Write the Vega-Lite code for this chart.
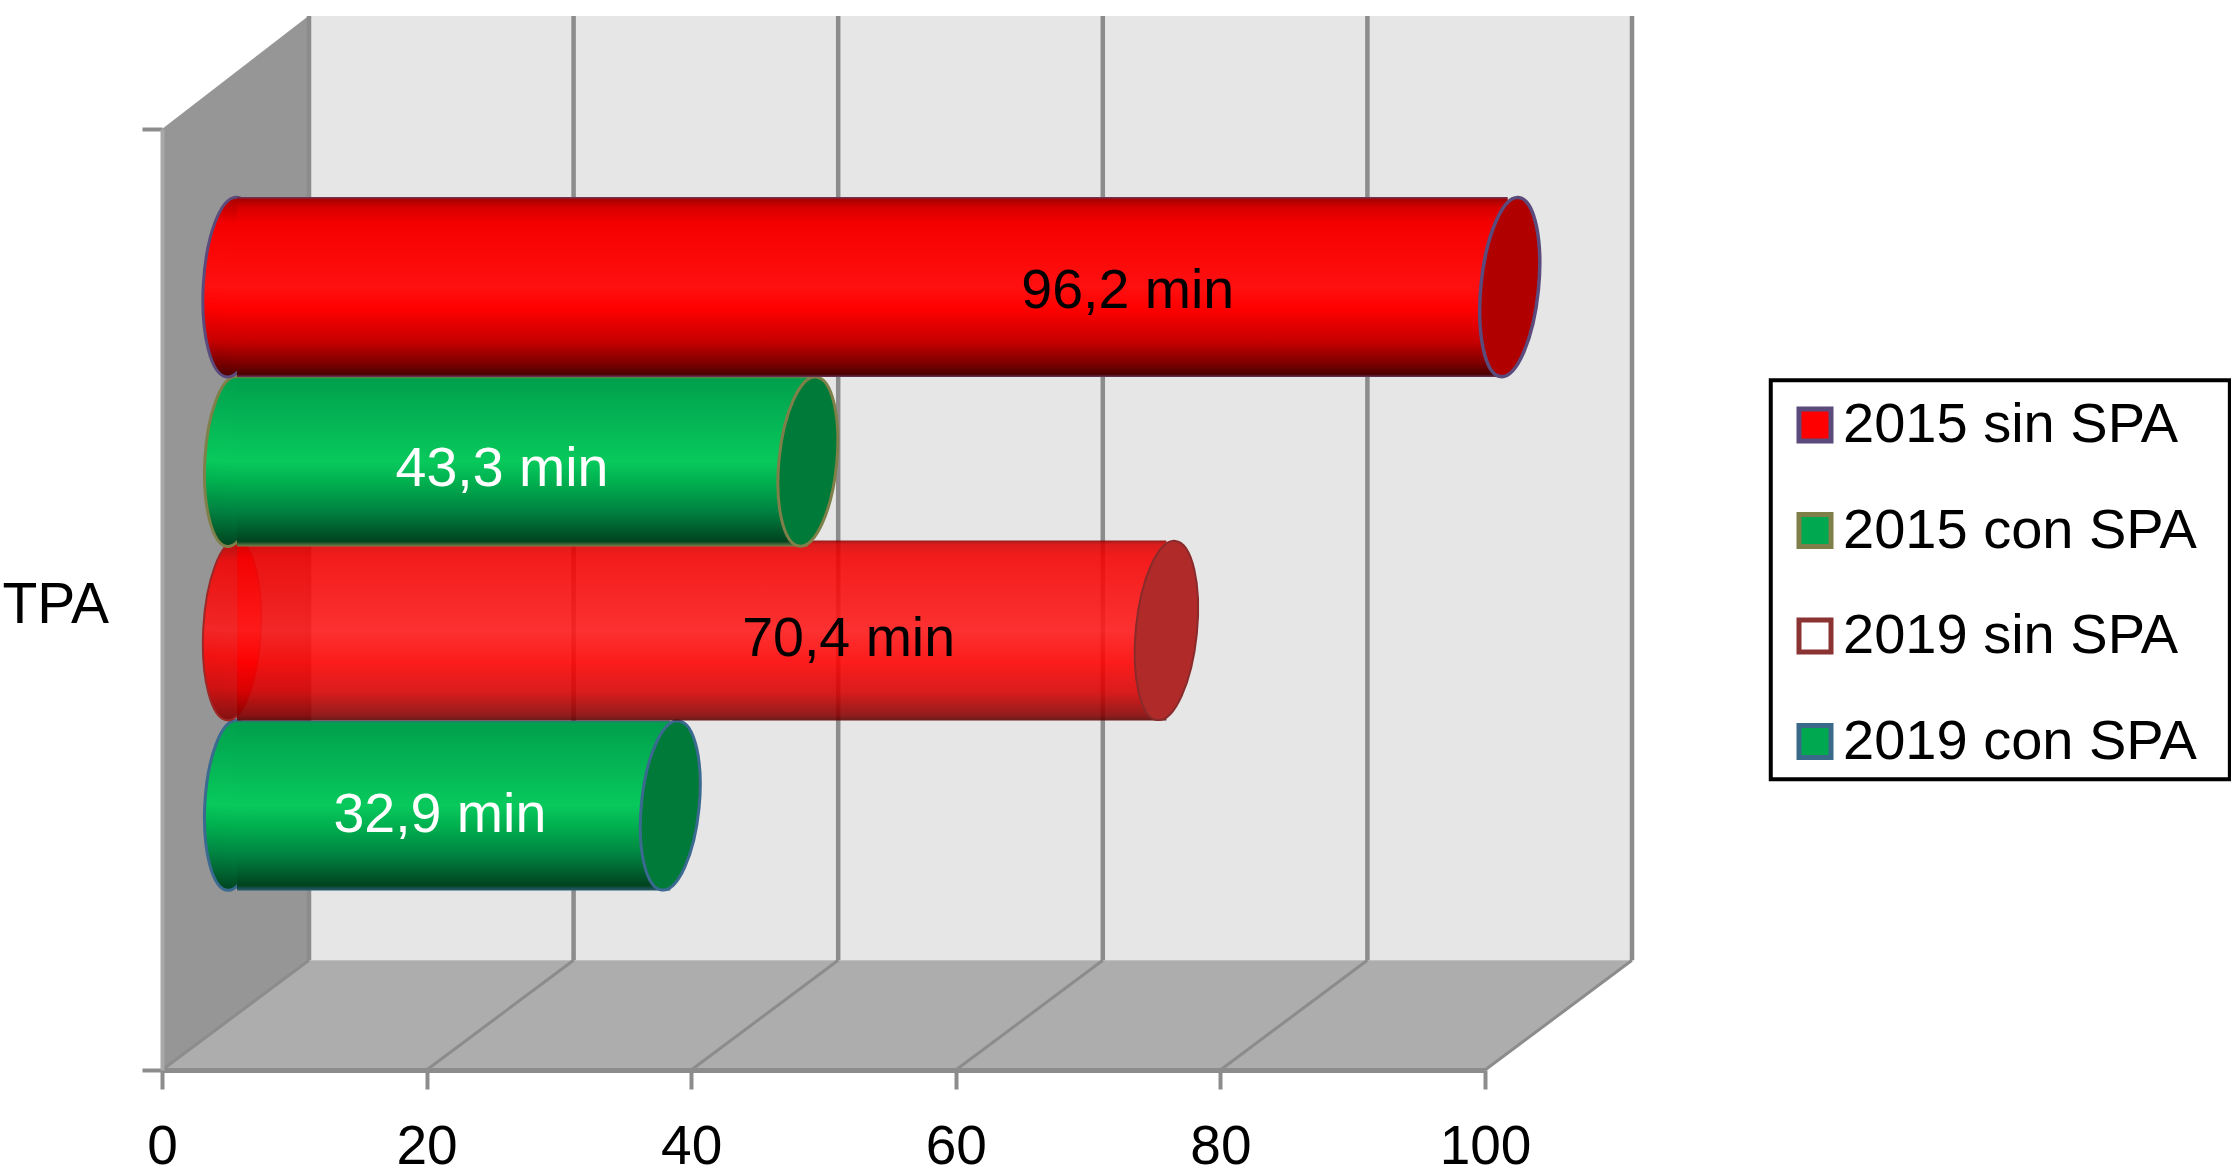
{"$schema":"https://vega.github.io/schema/vega-lite/v6.json","autosize":{"type":"none"},"padding":{"left":162,"top":129,"right":746,"bottom":106},"width":1323,"height":941,"background":"white","config":{"view":{"stroke":null},"font":"Liberation Sans","text":{"font":"Liberation Sans"}},"datasets":{"tpa":[{"series":"2015 sin SPA","value":96.2,"label":"96,2 min"},{"series":"2015 con SPA","value":43.3,"label":"43,3 min"},{"series":"2019 sin SPA","value":70.4,"label":"70,4 min"},{"series":"2019 con SPA","value":32.9,"label":"32,9 min"}],"ticks":[{"tick":0},{"tick":20},{"tick":40},{"tick":60},{"tick":80},{"tick":100}]},"resolve":{"scale":{"y":"independent"},"axis":{"x":"independent","y":"independent"}},"layer":[{"resolve":{"axis":{"x":"independent","y":"independent"}},"layer":[{"data":{"values":[{"d":11.07,"lo":11.66,"hi":112},{"d":111.07,"lo":11.66,"hi":112}]},"mark":{"type":"area","orient":"vertical","fill":"#e6e6e6"},"encoding":{"x":{"field":"d","type":"quantitative","scale":{"domain":[0,100],"nice":false},"axis":null},"y":{"field":"lo","type":"quantitative","scale":{"domain":[0,100],"nice":false},"axis":null},"y2":{"field":"hi"}}},{"data":{"values":[{"d":0,"lo":0,"hi":100},{"d":11.07,"lo":11.66,"hi":112}]},"mark":{"type":"area","orient":"vertical","fill":"#969696"},"encoding":{"x":{"field":"d","type":"quantitative","scale":{"domain":[0,100],"nice":false},"axis":null},"y":{"field":"lo","type":"quantitative","scale":{"domain":[0,100],"nice":false},"axis":null},"y2":{"field":"hi"}}},{"data":{"values":[{"d":0,"lo":0,"hi":0},{"d":11.07,"lo":0,"hi":11.66},{"d":100,"lo":0,"hi":11.66},{"d":111.07,"lo":11.66,"hi":11.66}]},"mark":{"type":"area","orient":"vertical","fill":"#adadad"},"encoding":{"x":{"field":"d","type":"quantitative","scale":{"domain":[0,100],"nice":false},"axis":null},"y":{"field":"lo","type":"quantitative","scale":{"domain":[0,100],"nice":false},"axis":null},"y2":{"field":"hi"}}},{"data":{"name":"ticks"},"mark":{"type":"rule","stroke":"#8c8c8c","strokeWidth":4.5,"xOffset":147},"encoding":{"x":{"field":"tick","type":"quantitative","scale":{"domain":[0,100],"nice":false},"axis":null},"y":{"datum":11.66,"type":"quantitative","scale":{"domain":[0,100],"nice":false},"axis":null},"y2":{"datum":112}}},{"data":{"name":"ticks"},"mark":{"type":"rule","stroke":"#8c8c8c","strokeWidth":3,"x2Offset":147},"encoding":{"x":{"field":"tick","type":"quantitative","scale":{"domain":[0,100],"nice":false},"axis":null},"x2":{"field":"tick"},"y":{"datum":0,"type":"quantitative","scale":{"domain":[0,100],"nice":false},"axis":null},"y2":{"datum":11.66}}},{"data":{"values":[{"box":"legend"}]},"mark":{"type":"rect","fill":"#ffffff","stroke":"#000000","strokeWidth":4},"encoding":{"x":{"datum":121.6,"type":"quantitative","scale":{"domain":[0,100],"nice":false},"axis":null},"x2":{"datum":156.3},"y":{"datum":73.3,"type":"quantitative","scale":{"domain":[0,100],"nice":false},"axis":null},"y2":{"datum":30.9}}},{"data":{"name":"ticks"},"mark":{"type":"rule","opacity":0,"size":0},"encoding":{"x":{"field":"tick","type":"quantitative","scale":{"domain":[0,100],"nice":false},"axis":{"title":null,"values":[0,20,40,60,80,100],"grid":false,"domain":true,"domainColor":"#8c8c8c","domainWidth":5,"tickColor":"#8c8c8c","tickWidth":4,"tickSize":19,"labelFontSize":55,"labelFont":"Liberation Sans","labelColor":"#000000","labelPadding":31,"labelOverlap":false,"labelFlush":false,"zindex":1}},"y":{"datum":0,"type":"quantitative","scale":{"domain":[0,100],"nice":false},"axis":{"values":[0,100],"grid":false,"labels":false,"domain":true,"domainColor":"#a8a8a8","domainWidth":4,"tickColor":"#8c8c8c","tickWidth":4,"tickSize":20,"title":"TPA","titleAngle":0,"titleFont":"Liberation Sans","titleFontSize":57,"titleFontWeight":"normal","titleColor":"#000000","titleAlign":"left","titleBaseline":"middle","titleX":-160,"titleY":476,"zindex":1}}}}]},{"data":{"name":"tpa"},"layer":[{"transform":[{"filter":"datum.series === '2019 con SPA'"}],"layer":[{"mark":{"type":"point","filled":true,"shape":"M0,-1A0.32,1,0,0,1,0,1A0.32,1,0,0,1,0,-1Z","size":28900,"angle":3,"xOffset":70,"yOffset":-53.5,"opacity":1,"stroke":"#3a6a90","strokeWidth":3,"fill":{"gradient":"linear","x1":0,"y1":0,"x2":0,"y2":1,"stops":[{"offset":0,"color":"#00a04c"},{"offset":0.5,"color":"#08c95c"},{"offset":0.62,"color":"#00b04f"},{"offset":0.8,"color":"#008040"},{"offset":1,"color":"#00431f"}]}},"encoding":{"x":{"datum":0,"type":"quantitative","scale":{"domain":[0,100],"nice":false},"axis":null},"y":{"field":"series","type":"nominal","axis":null,"scale":{"type":"band","domain":["2015 sin SPA","2015 con SPA","2019 sin SPA","2019 con SPA"],"paddingInner":0,"paddingOuter":0.72}}}},{"mark":{"type":"bar","size":170,"xOffset":73,"x2Offset":75,"yOffset":-53.5,"fill":{"gradient":"linear","x1":0,"y1":0,"x2":0,"y2":1,"stops":[{"offset":0,"color":"#3a6a80"},{"offset":0.015,"color":"#00a04c"},{"offset":0.5,"color":"#08c95c"},{"offset":0.62,"color":"#00b04f"},{"offset":0.8,"color":"#008040"},{"offset":0.97,"color":"#00431f"},{"offset":1,"color":"#2a5a70"}]}},"encoding":{"x":{"field":"value","type":"quantitative","scale":{"domain":[0,100],"nice":false},"axis":null},"x2":{"datum":0},"y":{"field":"series","type":"nominal","axis":null,"scale":{"type":"band","domain":["2015 sin SPA","2015 con SPA","2019 sin SPA","2019 con SPA"],"paddingInner":0,"paddingOuter":0.72}}}},{"mark":{"type":"point","filled":true,"shape":"M0,-1A0.34,1,0,0,1,0,1A0.34,1,0,0,1,0,-1Z","size":28900,"angle":5.7,"xOffset":73,"yOffset":-53.5,"opacity":1,"stroke":"#3a6a90","strokeWidth":3,"fill":"#007a38"},"encoding":{"x":{"field":"value","type":"quantitative","scale":{"domain":[0,100],"nice":false},"axis":null},"y":{"field":"series","type":"nominal","axis":null,"scale":{"type":"band","domain":["2015 sin SPA","2015 con SPA","2019 sin SPA","2019 con SPA"],"paddingInner":0,"paddingOuter":0.72}}}}]},{"transform":[{"filter":"datum.series === '2019 sin SPA'"}],"layer":[{"mark":{"type":"point","filled":true,"shape":"M0,-1A0.32,1,0,0,1,0,1A0.32,1,0,0,1,0,-1Z","size":32400,"angle":3,"xOffset":70,"yOffset":-55.5,"opacity":0.88,"stroke":"#a01818","strokeWidth":2,"fill":{"gradient":"linear","x1":0,"y1":0,"x2":0,"y2":1,"stops":[{"offset":0,"color":"#b00000"},{"offset":0.12,"color":"#f50000"},{"offset":0.5,"color":"#ff1818"},{"offset":0.65,"color":"#ff0000"},{"offset":0.82,"color":"#d80000"},{"offset":1,"color":"#800000"}]}},"encoding":{"x":{"datum":0,"type":"quantitative","scale":{"domain":[0,100],"nice":false},"axis":null},"y":{"field":"series","type":"nominal","axis":null,"scale":{"type":"band","domain":["2015 sin SPA","2015 con SPA","2019 sin SPA","2019 con SPA"],"paddingInner":0,"paddingOuter":0.72}}}},{"mark":{"type":"bar","size":180,"xOffset":73,"x2Offset":75,"yOffset":-55.5,"opacity":0.88,"fill":{"gradient":"linear","x1":0,"y1":0,"x2":0,"y2":1,"stops":[{"offset":0,"color":"#8a0000"},{"offset":0.02,"color":"#d80000"},{"offset":0.09,"color":"#f50000"},{"offset":0.5,"color":"#ff1818"},{"offset":0.68,"color":"#ff0000"},{"offset":0.84,"color":"#d80000"},{"offset":0.97,"color":"#880000"},{"offset":1,"color":"#5a0000"}]}},"encoding":{"x":{"field":"value","type":"quantitative","scale":{"domain":[0,100],"nice":false},"axis":null},"x2":{"datum":0},"y":{"field":"series","type":"nominal","axis":null,"scale":{"type":"band","domain":["2015 sin SPA","2015 con SPA","2019 sin SPA","2019 con SPA"],"paddingInner":0,"paddingOuter":0.72}}}},{"mark":{"type":"point","filled":true,"shape":"M0,-1A0.34,1,0,0,1,0,1A0.34,1,0,0,1,0,-1Z","size":32400,"angle":5.7,"xOffset":73,"yOffset":-55.5,"opacity":1,"stroke":"#8a2a2a","strokeWidth":2,"fill":"#b02a2a"},"encoding":{"x":{"field":"value","type":"quantitative","scale":{"domain":[0,100],"nice":false},"axis":null},"y":{"field":"series","type":"nominal","axis":null,"scale":{"type":"band","domain":["2015 sin SPA","2015 con SPA","2019 sin SPA","2019 con SPA"],"paddingInner":0,"paddingOuter":0.72}}}}]},{"transform":[{"filter":"datum.series === '2015 con SPA'"}],"layer":[{"mark":{"type":"point","filled":true,"shape":"M0,-1A0.32,1,0,0,1,0,1A0.32,1,0,0,1,0,-1Z","size":28900,"angle":3,"xOffset":70,"yOffset":-51.5,"opacity":1,"stroke":"#7f8049","strokeWidth":3,"fill":{"gradient":"linear","x1":0,"y1":0,"x2":0,"y2":1,"stops":[{"offset":0,"color":"#00a04c"},{"offset":0.5,"color":"#08c95c"},{"offset":0.62,"color":"#00b04f"},{"offset":0.8,"color":"#008040"},{"offset":1,"color":"#00431f"}]}},"encoding":{"x":{"datum":0,"type":"quantitative","scale":{"domain":[0,100],"nice":false},"axis":null},"y":{"field":"series","type":"nominal","axis":null,"scale":{"type":"band","domain":["2015 sin SPA","2015 con SPA","2019 sin SPA","2019 con SPA"],"paddingInner":0,"paddingOuter":0.72}}}},{"mark":{"type":"bar","size":170,"xOffset":73,"x2Offset":75,"yOffset":-51.5,"fill":{"gradient":"linear","x1":0,"y1":0,"x2":0,"y2":1,"stops":[{"offset":0,"color":"#7f8049"},{"offset":0.015,"color":"#00a04c"},{"offset":0.5,"color":"#08c95c"},{"offset":0.62,"color":"#00b04f"},{"offset":0.8,"color":"#008040"},{"offset":0.97,"color":"#00431f"},{"offset":1,"color":"#7f8049"}]}},"encoding":{"x":{"field":"value","type":"quantitative","scale":{"domain":[0,100],"nice":false},"axis":null},"x2":{"datum":0},"y":{"field":"series","type":"nominal","axis":null,"scale":{"type":"band","domain":["2015 sin SPA","2015 con SPA","2019 sin SPA","2019 con SPA"],"paddingInner":0,"paddingOuter":0.72}}}},{"mark":{"type":"point","filled":true,"shape":"M0,-1A0.34,1,0,0,1,0,1A0.34,1,0,0,1,0,-1Z","size":28900,"angle":5.7,"xOffset":73,"yOffset":-51.5,"opacity":1,"stroke":"#7f8049","strokeWidth":3,"fill":"#007a38"},"encoding":{"x":{"field":"value","type":"quantitative","scale":{"domain":[0,100],"nice":false},"axis":null},"y":{"field":"series","type":"nominal","axis":null,"scale":{"type":"band","domain":["2015 sin SPA","2015 con SPA","2019 sin SPA","2019 con SPA"],"paddingInner":0,"paddingOuter":0.72}}}}]},{"transform":[{"filter":"datum.series === '2015 sin SPA'"}],"layer":[{"mark":{"type":"point","filled":true,"shape":"M0,-1A0.32,1,0,0,1,0,1A0.32,1,0,0,1,0,-1Z","size":32400,"angle":3,"xOffset":70,"yOffset":-53,"opacity":1,"stroke":"#5b4a7c","strokeWidth":3,"fill":{"gradient":"linear","x1":0,"y1":0,"x2":0,"y2":1,"stops":[{"offset":0,"color":"#a80000"},{"offset":0.15,"color":"#f50000"},{"offset":0.5,"color":"#ff1010"},{"offset":0.62,"color":"#ff0000"},{"offset":0.8,"color":"#c80000"},{"offset":1,"color":"#4a0000"}]}},"encoding":{"x":{"datum":0,"type":"quantitative","scale":{"domain":[0,100],"nice":false},"axis":null},"y":{"field":"series","type":"nominal","axis":null,"scale":{"type":"band","domain":["2015 sin SPA","2015 con SPA","2019 sin SPA","2019 con SPA"],"paddingInner":0,"paddingOuter":0.72}}}},{"mark":{"type":"bar","size":180,"xOffset":73,"x2Offset":75,"yOffset":-53,"fill":{"gradient":"linear","x1":0,"y1":0,"x2":0,"y2":1,"stops":[{"offset":0,"color":"#6a3a60"},{"offset":0.015,"color":"#a80000"},{"offset":0.06,"color":"#d80000"},{"offset":0.15,"color":"#f50000"},{"offset":0.5,"color":"#ff1010"},{"offset":0.62,"color":"#ff0000"},{"offset":0.8,"color":"#c80000"},{"offset":0.93,"color":"#7a0000"},{"offset":0.985,"color":"#4a0000"},{"offset":1,"color":"#6a3a60"}]}},"encoding":{"x":{"field":"value","type":"quantitative","scale":{"domain":[0,100],"nice":false},"axis":null},"x2":{"datum":0},"y":{"field":"series","type":"nominal","axis":null,"scale":{"type":"band","domain":["2015 sin SPA","2015 con SPA","2019 sin SPA","2019 con SPA"],"paddingInner":0,"paddingOuter":0.72}}}},{"mark":{"type":"point","filled":true,"shape":"M0,-1A0.32,1,0,0,1,0,1A0.32,1,0,0,1,0,-1Z","size":32400,"angle":5.7,"xOffset":75,"yOffset":-53,"opacity":1,"stroke":"#5b4a7c","strokeWidth":3.5,"fill":"#b00000"},"encoding":{"x":{"field":"value","type":"quantitative","scale":{"domain":[0,100],"nice":false},"axis":null},"y":{"field":"series","type":"nominal","axis":null,"scale":{"type":"band","domain":["2015 sin SPA","2015 con SPA","2019 sin SPA","2019 con SPA"],"paddingInner":0,"paddingOuter":0.72}}}}]},{"transform":[{"filter":"datum.series === '2015 sin SPA'"}],"mark":{"type":"text","fontSize":55.5,"font":"Liberation Sans","align":"center","baseline":"middle","yOffset":-49,"color":"#000000"},"encoding":{"x":{"datum":73,"type":"quantitative","scale":{"domain":[0,100],"nice":false},"axis":null},"y":{"field":"series","type":"nominal","axis":null,"scale":{"type":"band","domain":["2015 sin SPA","2015 con SPA","2019 sin SPA","2019 con SPA"],"paddingInner":0,"paddingOuter":0.72}},"text":{"field":"label"}}},{"transform":[{"filter":"datum.series === '2015 con SPA'"}],"mark":{"type":"text","fontSize":55.5,"font":"Liberation Sans","align":"center","baseline":"middle","yOffset":-44,"color":"#ffffff"},"encoding":{"x":{"datum":25.7,"type":"quantitative","scale":{"domain":[0,100],"nice":false},"axis":null},"y":{"field":"series","type":"nominal","axis":null,"scale":{"type":"band","domain":["2015 sin SPA","2015 con SPA","2019 sin SPA","2019 con SPA"],"paddingInner":0,"paddingOuter":0.72}},"text":{"field":"label"}}},{"transform":[{"filter":"datum.series === '2019 sin SPA'"}],"mark":{"type":"text","fontSize":55.5,"font":"Liberation Sans","align":"center","baseline":"middle","yOffset":-47,"color":"#000000"},"encoding":{"x":{"datum":51.9,"type":"quantitative","scale":{"domain":[0,100],"nice":false},"axis":null},"y":{"field":"series","type":"nominal","axis":null,"scale":{"type":"band","domain":["2015 sin SPA","2015 con SPA","2019 sin SPA","2019 con SPA"],"paddingInner":0,"paddingOuter":0.72}},"text":{"field":"label"}}},{"transform":[{"filter":"datum.series === '2019 con SPA'"}],"mark":{"type":"text","fontSize":55.5,"font":"Liberation Sans","align":"center","baseline":"middle","yOffset":-44,"color":"#ffffff"},"encoding":{"x":{"datum":21,"type":"quantitative","scale":{"domain":[0,100],"nice":false},"axis":null},"y":{"field":"series","type":"nominal","axis":null,"scale":{"type":"band","domain":["2015 sin SPA","2015 con SPA","2019 sin SPA","2019 con SPA"],"paddingInner":0,"paddingOuter":0.72}},"text":{"field":"label"}}},{"mark":{"type":"point","filled":true,"shape":"square","size":0},"encoding":{"x":{"field":"value","type":"quantitative","scale":{"domain":[0,100],"nice":false},"axis":null},"y":{"field":"series","type":"nominal","axis":null,"scale":{"type":"band","domain":["2015 sin SPA","2015 con SPA","2019 sin SPA","2019 con SPA"],"paddingInner":0,"paddingOuter":0.72}},"fill":{"field":"series","type":"nominal","scale":{"domain":["2015 sin SPA","2015 con SPA","2019 sin SPA","2019 con SPA"],"range":["#ff0000","#00a84f","#ffffff","#00a84f"]},"legend":{"title":null,"orient":"none","legendX":1607,"legendY":250,"padding":18,"symbolType":"square","symbolSize":1024,"symbolStrokeWidth":5,"symbolOpacity":1,"labelFontSize":56,"labelFont":"Liberation Sans","labelColor":"#000000","labelOffset":0,"labelLimit":500,"rowPadding":49.5}},"stroke":{"field":"series","type":"nominal","scale":{"domain":["2015 sin SPA","2015 con SPA","2019 sin SPA","2019 con SPA"],"range":["#5b4a7c","#7f8049","#8a3333","#3a6a8a"]},"legend":{"title":null,"orient":"none","legendX":1607,"legendY":250,"padding":18,"symbolType":"square","symbolSize":1024,"symbolStrokeWidth":5,"symbolOpacity":1,"labelFontSize":56,"labelFont":"Liberation Sans","labelColor":"#000000","labelOffset":0,"labelLimit":500,"rowPadding":49.5}}}}]}]}
